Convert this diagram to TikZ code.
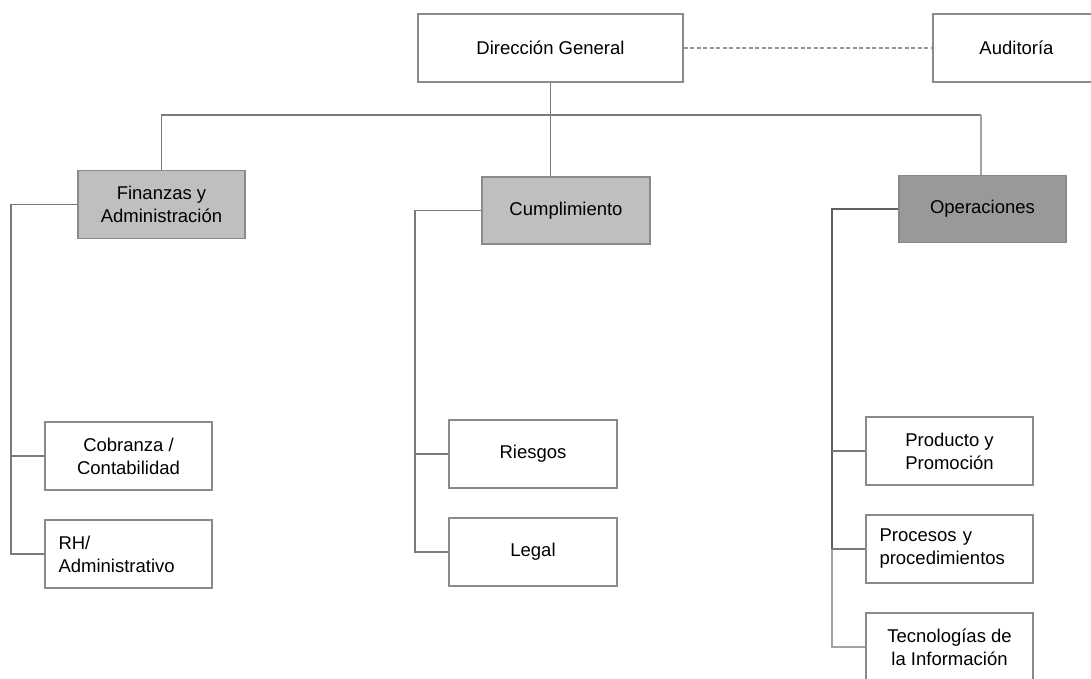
\documentclass[tikz,border=0pt]{standalone}
\usepackage{fontspec}
\setmainfont{Liberation Sans}
\begin{document}
\begin{tikzpicture}[x=1pt,y=-1pt,
  box/.style={draw=boxgray,line width=1.5pt,fill=white,minimum width=167pt,minimum height=68pt,inner sep=0pt,align=center,font=\fontsize{18.5}{23}\selectfont,text=black},
  lbox/.style={box,align=left,text width=140pt},
  conn/.style={draw=linegray,line width=1.7pt},
  ]
\definecolor{boxgray}{HTML}{8A8A8A}
\definecolor{linegray}{HTML}{7A7A7A}
\definecolor{lightfill}{HTML}{BFBFBF}
\definecolor{darkfill}{HTML}{999999}
\useasboundingbox (0,0) rectangle (1091,679);
\begin{scope}
\clip (0,0) rectangle (1091,679);
% nodes
\node[box,minimum width=265pt] (dg) at (550.5,48) {Dirección General};
\node[box] (aud) at (1016.5,48) {Auditoría};
\node[box,fill=lightfill] (fin) at (161.5,204.5) {Finanzas y\\Administración};
\node[box,fill=lightfill,minimum width=168pt,minimum height=67pt] (cum) at (566,210.5) {Cumplimiento};
\node[box,fill=darkfill,minimum height=67pt] (ope) at (982.5,209) {Operaciones};
\node[box] (cob) at (128.5,456) {Cobranza /\\Contabilidad};
\node[lbox] (rh) at (128.5,554) {RH/\\Administrativo};
\node[box,minimum width=168pt] (rie) at (533,454) {Riesgos};
\node[box,minimum width=168pt] (leg) at (533,552) {Legal};
\node[box] (pro) at (949.5,451) {Producto y\\Promoción};
\node[lbox] (prc) at (949.5,549) {Procesos y\\procedimientos};
\node[box] (tec) at (949.5,647) {Tecnologías de\\la Información};
% bus
\coordinate (busL) at (162,115);
\coordinate (busR) at (981,115);
\draw[conn] (dg.south) -- (dg.south |- busL);
\draw[conn] (fin.north) -- (fin.north |- busL) -- (busR);
\draw[conn,draw=linegray!70] (busR) -- (busR |- ope.north);
\draw[conn] (dg.south |- busL) -- (dg.south |- cum.north);
\draw[draw=linegray!80,line width=1.4pt,dash pattern=on 4pt off 2.5pt] (dg.east) -- (aud.west);
% left trunks
\draw[conn] (fin.west) -| ([xshift=-33pt]rh.west) -- (rh.west);
\draw[conn] (cob.west) -- ++(-33,0);
\draw[conn] (cum.west) -| ([xshift=-33pt]leg.west) -- (leg.west);
\draw[conn] (rie.west) -- ++(-33,0);
\draw[conn,draw=linegray!70] ([xshift=-33pt]prc.west) -- ([xshift=-33pt]tec.west) -- (tec.west);
\draw[conn,draw=black!62,line width=2.2pt] (ope.west) -| ([xshift=-33pt]prc.west);
\draw[conn] (pro.west) -- ++(-33,0);
\draw[conn] (prc.west) -- ++(-33,0);
\end{scope}
\end{tikzpicture}
\end{document}
